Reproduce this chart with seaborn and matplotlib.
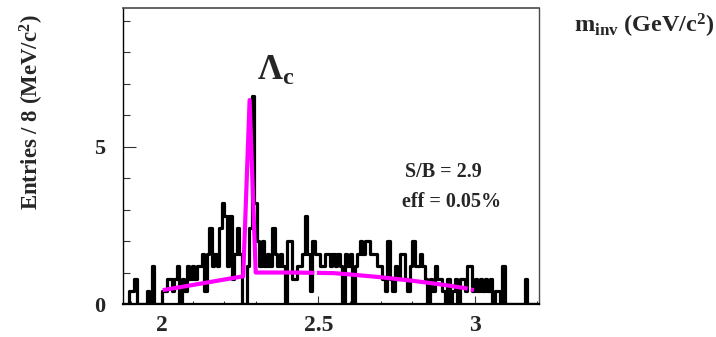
import numpy as np
import pandas as pd
import matplotlib
matplotlib.use("Agg")
import matplotlib.pyplot as plt
from matplotlib.ticker import FixedLocator, MultipleLocator, NullFormatter
import seaborn as sns

# Invariant-mass spectrum, 8 MeV/c^2 bins starting at 1.88 GeV/c^2
bin_start = 1.88
bin_width = 0.008
entries = [
    0, 0, 0.4, 0.4, 0.8, 0, 0, 0, 0, 0.4,
    0, 1.2, 0, 0, 0, 0.4, 0.4, 0.8, 0.8, 0.4,
    0.8, 1.2, 0, 0.8, 0.4, 1.2, 0.8, 1.2, 0.8, 1.2,
    1.2, 1.6, 0.4, 1.6, 2.4, 1.2, 1.6, 1.2, 2.4, 3.2,
    2.8, 1.2, 2.8, 0.8, 1.6, 2.4, 1.6, 0, 0, 1.2,
    2.4, 6.6, 3.2, 2.0, 1.2, 2.0, 1.2, 1.6, 1.2, 2.4,
    1.6, 1.2, 1.6, 1.2, 0, 2.0, 2.0, 0.8, 0.8, 1.2,
    1.2, 1.6, 2.8, 1.6, 0.4, 2.0, 1.6, 1.6, 1.2, 1.2,
    1.6, 1.6, 1.2, 1.6, 1.2, 1.6, 1.2, 0, 1.6, 1.2,
    1.6, 0, 1.2, 1.6, 2.0, 1.6, 2.0, 2.0, 1.6, 1.6,
    1.6, 1.2, 1.2, 0.8, 0.4, 2.0, 0.8, 0.4, 1.2, 0.8,
    1.6, 1.6, 0.8, 0.4, 1.2, 2.0, 1.2, 1.2, 1.6, 1.2,
    0.8, 0, 0.8, 0.4, 1.2, 0.8, 0.8, 0.4, 0, 0.8,
    0, 0.4, 0.8, 0, 0.8, 0.8, 0.4, 1.2, 1.2, 0.4,
    0.8, 0.4, 0.8, 0.4, 0.8, 0.4, 0.8, 0, 0.4, 0.4,
    0, 1.2, 0, 0, 0, 0, 0, 0, 0, 0,
    0.8, 0, 0, 0, 0,
]

# Fitted signal + background curve, drawn in three pieces
fit_seg = [0, 0, 0, 0, 0, 0, 0,
           1, 1, 1, 1, 1, 1, 1,
           2, 2]
fit_mass = [2.003, 2.260, 2.2805, 2.300, 2.35, 2.42, 2.4877,
            2.4953, 2.55, 2.60, 2.70, 2.80, 2.90, 2.977,
            2.987, 2.997]
fit_value = [0.44, 0.88, 6.48, 1.0, 1.0, 1.0, 0.99,
             0.99, 0.98, 0.94, 0.85, 0.74, 0.61, 0.49,
             0.46, 0.44]

sns.set_theme(style="white")
plt.rcParams["font.family"] = ["Liberation Serif", "DejaVu Serif"]
plt.rcParams["font.weight"] = "bold"
plt.rcParams["mathtext.fontset"] = "custom"
plt.rcParams["mathtext.rm"] = "Liberation Serif:bold"
plt.rcParams["mathtext.it"] = "Liberation Serif:bold"
plt.rcParams["mathtext.bf"] = "Liberation Serif:bold"

W, H = 716, 337
fig = plt.figure(figsize=(W / 100, H / 100), dpi=100)
fig.patch.set_facecolor("white")
ax = fig.add_axes([123 / W, (H - 304) / H, (539 - 123) / W, (304 - 7.5) / H])
ax.set_facecolor("white")

n_bins = len(entries)
edges = [bin_start + bin_width * i for i in range(n_bins + 1)]
centers = [bin_start + bin_width * (i + 0.5) for i in range(n_bins)]
hist_df = pd.DataFrame({"mass": centers, "entries": entries})

sns.histplot(data=hist_df, x="mass", weights="entries", bins=edges,
             element="step", fill=False, color="black", linewidth=2.3,
             ax=ax, zorder=2)

fit_df = pd.DataFrame({"seg": fit_seg, "mass": fit_mass, "value": fit_value})
sns.lineplot(data=fit_df, x="mass", y="value", units="seg", estimator=None,
             sort=False, color="#ff00ff", linewidth=3.0, ax=ax, zorder=3,
             legend=False)
for ln in ax.lines:
    ln.set_solid_capstyle("butt")

ax.set_xlim(1.876, 3.205)
ax.set_ylim(0, 9.42)
ax.set_xlabel("")
ax.set_ylabel("")

# axis frame
for side in ["left", "right", "top", "bottom"]:
    ax.spines[side].set_visible(True)
ax.spines["left"].set_color("black")
ax.spines["left"].set_linewidth(1.0)
ax.spines["top"].set_color("#4a4a4a")
ax.spines["top"].set_linewidth(1.2)
ax.spines["right"].set_color("#4a4a4a")
ax.spines["right"].set_linewidth(1.0)
ax.spines["bottom"].set_color("black")
ax.spines["bottom"].set_linewidth(1.6)

# ticks
ax.xaxis.set_major_locator(FixedLocator([2.0, 2.5, 3.0]))
ax.xaxis.set_minor_locator(MultipleLocator(0.1))
ax.set_xticklabels(["2", "2.5", "3"])
ax.yaxis.set_major_locator(FixedLocator([0, 5]))
ax.yaxis.set_minor_locator(MultipleLocator(1))
ax.yaxis.set_minor_formatter(NullFormatter())
ax.tick_params(axis="x", which="major", direction="in", length=5.5,
               width=0.8, color="#333333", labelsize=17, pad=8,
               bottom=True, top=False)
ax.tick_params(axis="x", which="minor", direction="in", length=2.5,
               width=0.8, color="#333333", bottom=True, top=False)
ax.tick_params(axis="y", which="major", direction="in", length=9,
               width=0.8, color="#333333", labelsize=16, pad=13,
               left=True, right=False)
ax.tick_params(axis="y", which="minor", direction="in", length=4.8,
               width=0.8, color="#333333", left=True, right=False)
for lab in ax.get_xticklabels() + ax.get_yticklabels():
    lab.set_fontweight("bold")

# labels and annotations
fig.text(32 / W, 1 - 112 / H, r"Entries / 8 (MeV/c$^{2}$)", rotation=90,
         ha="center", va="center", fontsize=16.5, fontweight="bold")
fig.text(715 / W, 1 - 33 / H, r"$\mathrm{m_{inv}}$ (GeV/c$^{2}$)",
         ha="right", va="baseline", fontsize=17.5, fontweight="bold")
fig.text(257 / W, 1 - 80 / H, r"$\Lambda_{c}$", ha="left", va="baseline",
         fontsize=25)
fig.text(405 / W, 1 - 177 / H, "S/B = 2.9", ha="left", va="baseline",
         fontsize=14.5, fontweight="bold")
fig.text(402 / W, 1 - 207 / H, "eff = 0.05%", ha="left", va="baseline",
         fontsize=14.5, fontweight="bold")

fig.savefig("out.png", dpi=100, facecolor="white")
